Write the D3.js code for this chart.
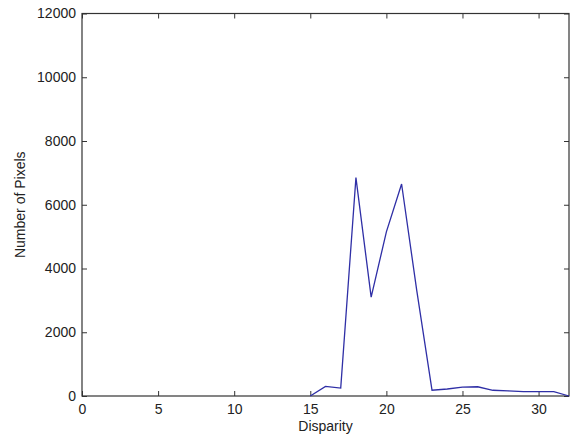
<!DOCTYPE html>
<html>
<head>
<meta charset="utf-8">
<script src="https://cdn.jsdelivr.net/npm/d3@7"></script>
<style>
  body { margin: 0; background: #fff; }
  svg text { font-family: "Liberation Sans", Arial, sans-serif; fill: #222; }
</style>
</head>
<body>
<div id="chart"></div>
<script>
// histogram of disparities
const disparity = [15, 16, 17, 18, 19, 20, 21, 22, 23, 24, 25, 26, 27, 28, 29, 30, 31, 32];
const pixelCount = [0, 300, 250, 6850, 3100, 5150, 6650, 3300, 180, 220, 280, 290, 180, 160, 140, 140, 140, 0];
const xTicks = [0, 5, 10, 15, 20, 25, 30];
const yTicks = [0, 2000, 4000, 6000, 8000, 10000, 12000];

const width = 571, height = 437;
const margin = { top: 13.5, right: 2, bottom: 41, left: 82 };

const svg = d3.select("#chart")
  .append("svg")
  .attr("width", width)
  .attr("height", height);

const x = d3.scaleLinear().domain([0, 32]).range([margin.left, width - margin.right]);
const y = d3.scaleLinear().domain([0, 12000]).range([height - margin.bottom, margin.top]);

const axisColor = "#333";

// bottom and left axes, ticks pointing inward (matlab style)
const gx = svg.append("g")
  .attr("transform", `translate(0,${y(0)})`)
  .call(d3.axisBottom(x).tickValues(xTicks).tickSizeInner(-5).tickSizeOuter(0).tickPadding(8).tickFormat(d3.format("d")));

const gy = svg.append("g")
  .attr("transform", `translate(${x(0)},0)`)
  .call(d3.axisLeft(y).tickValues(yTicks).tickSizeInner(-5).tickSizeOuter(0).tickPadding(6).tickFormat(d3.format("d")));

// top and right: ticks only
const gt = svg.append("g")
  .attr("transform", `translate(0,${y(12000)})`)
  .call(d3.axisTop(x).tickValues(xTicks).tickSizeInner(-5).tickSizeOuter(0).tickFormat(""));

const gr = svg.append("g")
  .attr("transform", `translate(${x(32)},0)`)
  .call(d3.axisRight(y).tickValues(yTicks).tickSizeInner(-5).tickSizeOuter(0).tickFormat(""));

[gx, gy, gt, gr].forEach((g) => {
  g.select(".domain").remove();
  g.selectAll(".tick line").attr("stroke", axisColor);
  g.selectAll(".tick text")
    .style("font-size", "14px")
    .style("font-family", "'Liberation Sans', Arial, sans-serif")
    .attr("fill", "#222");
});

// frame
svg.append("rect")
  .attr("x", x(0))
  .attr("y", y(12000))
  .attr("width", x(32) - x(0))
  .attr("height", y(0) - y(12000))
  .attr("fill", "none")
  .attr("stroke", axisColor)
  .attr("stroke-width", 1.2);

// data line
const line = d3.line()
  .x((d, i) => x(disparity[i]))
  .y((d) => y(d));

svg.append("path")
  .datum(pixelCount)
  .attr("d", line)
  .attr("fill", "none")
  .attr("stroke", "#2f2fa6")
  .attr("stroke-width", 1.3);

// axis labels
svg.append("text")
  .text("Disparity")
  .attr("x", (x(0) + x(32)) / 2)
  .attr("y", 431)
  .style("text-anchor", "middle")
  .style("font-size", "14px");

svg.append("text")
  .text("Number of Pixels")
  .attr("transform", `translate(25,${(y(0) + y(12000)) / 2}) rotate(-90)`)
  .style("text-anchor", "middle")
  .style("font-size", "14px");
</script>
</body>
</html>
